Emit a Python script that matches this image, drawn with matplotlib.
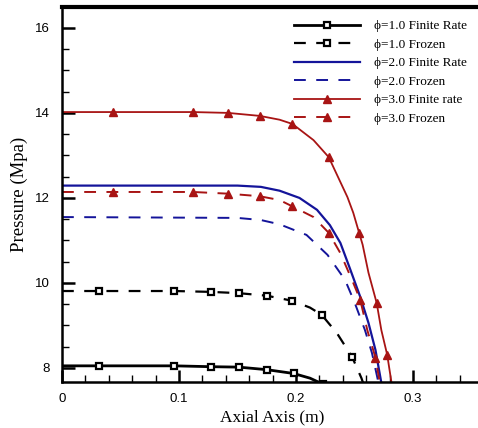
import matplotlib
matplotlib.use("Agg")
import matplotlib.pyplot as plt
from matplotlib.ticker import MultipleLocator

plt.rcParams['lines.scale_dashes'] = False

# phi = 1.0
phi1_rate_x = [0, 0.032, 0.096, 0.127, 0.151, 0.175, 0.198, 0.212, 0.223]
phi1_rate_y = [8.05, 8.05, 8.05, 8.03, 8.02, 7.96, 7.87, 7.76, 7.62]
phi1_rate_marks = [1, 2, 3, 4, 5, 6, 8]
phi1_froz_x = [0, 0.032, 0.096, 0.127, 0.151, 0.175, 0.197, 0.212, 0.222, 0.235, 0.248, 0.256, 0.258]
phi1_froz_y = [9.81, 9.81, 9.81, 9.79, 9.76, 9.7, 9.58, 9.42, 9.25, 8.82, 8.26, 7.76, 7.6]
phi1_froz_marks = [1, 2, 3, 4, 5, 6, 8, 10]

# phi = 2.0
phi2_rate_x = [0, 0.15, 0.17, 0.186, 0.203, 0.218, 0.229, 0.238, 0.246, 0.255, 0.262, 0.268, 0.273, 0.275]
phi2_rate_y = [12.29, 12.29, 12.26, 12.17, 12.0, 11.72, 11.36, 10.94, 10.35, 9.67, 9.06, 8.42, 7.65, 7.6]
phi2_froz_x = [0, 0.15, 0.17, 0.186, 0.209, 0.227, 0.242, 0.25, 0.259, 0.265, 0.27, 0.271]
phi2_froz_y = [11.55, 11.53, 11.48, 11.38, 11.13, 10.66, 10.07, 9.55, 8.89, 8.35, 7.72, 7.6]

# phi = 3.0
phi3_rate_x = [0, 0.044, 0.112, 0.142, 0.169, 0.186, 0.197, 0.215, 0.228, 0.236, 0.244, 0.249,
               0.254, 0.257, 0.262, 0.269, 0.273, 0.278, 0.282]
phi3_rate_y = [14.02, 14.02, 14.02, 14.0, 13.93, 13.84, 13.74, 13.36, 12.96, 12.49, 12.02, 11.65,
               11.18, 10.9, 10.24, 9.53, 8.89, 8.31, 7.6]
phi3_rate_marks = [1, 2, 3, 4, 6, 8, 12, 15, 17]
phi3_froz_x = [0, 0.044, 0.112, 0.142, 0.169, 0.186, 0.197, 0.215, 0.228, 0.238, 0.249, 0.255,
               0.261, 0.268, 0.272]
phi3_froz_y = [12.14, 12.14, 12.14, 12.1, 12.04, 11.95, 11.8, 11.55, 11.18, 10.7, 10.0, 9.6,
               8.89, 8.24, 7.6]
phi3_froz_marks = [1, 2, 3, 4, 6, 8, 11, 13]

labels = ['ϕ=1.0 Finite Rate', 'ϕ=1.0 Frozen', 'ϕ=2.0 Finite Rate',
          'ϕ=2.0 Frozen', 'ϕ=3.0 Finite rate', 'ϕ=3.0 Frozen']

black = '#000000'
blue = '#14149a'
red = '#a81414'
dash = (0, (8.5, 7.5))

fig = plt.figure(figsize=(4.78, 4.28), dpi=100)
ax = fig.add_axes([0.1297, 0.1075, 0.881, 0.877])

ax.plot(phi1_rate_x, phi1_rate_y, color=black, lw=2, marker='s', ms=5, mew=1.6,
        mfc='white', markevery=phi1_rate_marks, label=labels[0])
ax.plot(phi1_froz_x, phi1_froz_y, color=black, lw=1.6, ls=dash, marker='s', ms=5, mew=1.6,
        mfc='white', markevery=phi1_froz_marks, label=labels[1])
ax.plot(phi2_rate_x, phi2_rate_y, color=blue, lw=1.6, label=labels[2])
ax.plot(phi2_froz_x, phi2_froz_y, color=blue, lw=1.4, ls=dash, label=labels[3])
ax.plot(phi3_rate_x, phi3_rate_y, color=red, lw=1.3, marker='^', ms=6,
        markevery=phi3_rate_marks, label=labels[4])
ax.plot(phi3_froz_x, phi3_froz_y, color=red, lw=1.4, ls=dash, marker='^', ms=6,
        markevery=phi3_froz_marks, label=labels[5])

ax.set_xlim(0, 0.36)
ax.set_ylim(7.67, 16.5)
ax.xaxis.set_major_locator(MultipleLocator(0.1))
ax.xaxis.set_minor_locator(MultipleLocator(0.02))
ax.yaxis.set_major_locator(MultipleLocator(2))
ax.yaxis.set_minor_locator(MultipleLocator(0.5))
ax.xaxis.set_major_formatter(plt.FuncFormatter(lambda v, p: '0' if abs(v) < 1e-9 else f'{v:.1f}'))
ax.yaxis.set_major_formatter(plt.FuncFormatter(lambda v, p: f'{v:.0f}'))
ax.tick_params(which='major', direction='in', length=9, width=1.8, labelsize=9.5)
ax.tick_params(which='minor', direction='in', length=5, width=1)
ax.tick_params(axis='y', which='both', right=False)
ax.tick_params(axis='y', which='major', pad=8.5)
ax.tick_params(axis='x', which='both', top=False)
ax.tick_params(axis='x', which='major', pad=8)
for lab in ax.get_xticklabels() + ax.get_yticklabels():
    lab.set_family(['Liberation Sans', 'DejaVu Sans'])

ax.spines['top'].set_linewidth(3)
ax.spines['left'].set_linewidth(1.8)
ax.spines['bottom'].set_linewidth(1.8)
ax.spines['right'].set_visible(False)

serif = ['Liberation Serif', 'DejaVu Serif']
ax.set_xlabel('Axial Axis (m)', family=serif, fontsize=12.5)
ax.xaxis.set_label_coords(0.5, -0.074)
ax.set_ylabel('Pressure (Mpa)', family=serif, fontsize=13.5)
ax.yaxis.set_label_coords(-0.081, 0.5)

ax.legend(loc='upper right', bbox_to_anchor=(0.975, 0.978), frameon=False,
          prop={'family': serif, 'size': 9.5}, handlelength=5.0, handletextpad=1.06,
          labelspacing=0.47, borderaxespad=0)

fig.savefig('out.png', dpi=100)
